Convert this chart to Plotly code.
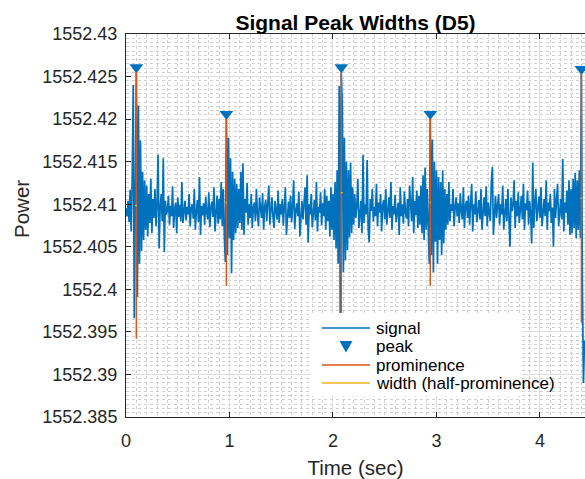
import numpy as np
import plotly.graph_objects as go

# ---------------- data ----------------
sample_interval = 0.01  # seconds between samples

signal_power = [
    1552.4095, 1552.4086, 1552.4104, 1552.4079, 1552.4117, 1552.4068, 1552.4132, 1552.4240, 1552.3966, 1552.4150,
    1552.4255, 1552.3991, 1552.4216, 1552.4030, 1552.4175, 1552.4045, 1552.4138, 1552.4058, 1552.4128, 1552.4070,
    1552.4122, 1552.4062, 1552.4112, 1552.4078, 1552.4130, 1552.4066, 1552.4106, 1552.4084, 1552.4118, 1552.4074,
    1552.4100, 1552.4158, 1552.4048, 1552.4096, 1552.4112, 1552.4080, 1552.4154, 1552.4044, 1552.4104, 1552.4088,
    1552.4092, 1552.4110, 1552.4076, 1552.4098, 1552.4086, 1552.4121, 1552.4072, 1552.4094, 1552.4102, 1552.4066,
    1552.4108, 1552.4085, 1552.4099, 1552.4080, 1552.4126, 1552.4078, 1552.4090, 1552.4104, 1552.4081, 1552.4097,
    1552.4088, 1552.4112, 1552.4074, 1552.4095, 1552.4100, 1552.4083, 1552.4118, 1552.4070, 1552.4092, 1552.4105,
    1552.4079, 1552.4132, 1552.4064, 1552.4098, 1552.4087, 1552.4101, 1552.4076, 1552.4109, 1552.4090, 1552.4082,
    1552.4114, 1552.4073, 1552.4096, 1552.4103, 1552.4085, 1552.4120, 1552.4068, 1552.4099, 1552.4110, 1552.4077,
    1552.4106, 1552.4082, 1552.4126, 1552.4074, 1552.4118, 1552.4062, 1552.4032, 1552.4200, 1552.4040, 1552.4178,
    1552.4060, 1552.4154, 1552.4019, 1552.4138, 1552.4058, 1552.4130, 1552.4066, 1552.4124, 1552.4072, 1552.4118,
    1552.4078, 1552.4138, 1552.4070, 1552.4148, 1552.4064, 1552.4106, 1552.4090, 1552.4125, 1552.4076, 1552.4100,
    1552.4084, 1552.4112, 1552.4072, 1552.4096, 1552.4102, 1552.4080, 1552.4118, 1552.4088, 1552.4074, 1552.4108,
    1552.4092, 1552.4084, 1552.4113, 1552.4070, 1552.4097, 1552.4105, 1552.4080, 1552.4099, 1552.4122, 1552.4076,
    1552.4090, 1552.4108, 1552.4086, 1552.4072, 1552.4104, 1552.4095, 1552.4082, 1552.4116, 1552.4078, 1552.4100,
    1552.4088, 1552.4106, 1552.4075, 1552.4098, 1552.4120, 1552.4064, 1552.4094, 1552.4103, 1552.4084, 1552.4110,
    1552.4079, 1552.4097, 1552.4128, 1552.4071, 1552.4092, 1552.4101, 1552.4086, 1552.4115, 1552.4062, 1552.4095,
    1552.4104, 1552.4082, 1552.4099, 1552.4120, 1552.4076, 1552.4134, 1552.4055, 1552.4100, 1552.4088, 1552.4112,
    1552.4073, 1552.4096, 1552.4105, 1552.4081, 1552.4126, 1552.4068, 1552.4097, 1552.4090, 1552.4114, 1552.4075,
    1552.4101, 1552.4086, 1552.4118, 1552.4070, 1552.4110, 1552.4080, 1552.4104, 1552.4062, 1552.4120, 1552.4070,
    1552.4112, 1552.4058, 1552.4126, 1552.4048, 1552.4140, 1552.4030, 1552.4239, 1552.3972, 1552.4255, 1552.4216,
    1552.4020, 1552.4178, 1552.4034, 1552.4150, 1552.4046, 1552.4140, 1552.4061, 1552.4149, 1552.4066, 1552.4120,
    1552.4076, 1552.4112, 1552.4084, 1552.4098, 1552.4130, 1552.4072, 1552.4095, 1552.4104, 1552.4066, 1552.4158,
    1552.4078, 1552.4100, 1552.4088, 1552.4152, 1552.4070, 1552.4055, 1552.4106, 1552.4092, 1552.4118, 1552.4080,
    1552.4097, 1552.4086, 1552.4124, 1552.4074, 1552.4102, 1552.4090, 1552.4112, 1552.4068, 1552.4099, 1552.4105,
    1552.4082, 1552.4118, 1552.4076, 1552.4094, 1552.4108, 1552.4084, 1552.4126, 1552.4070, 1552.4098, 1552.4088,
    1552.4111, 1552.4079, 1552.4095, 1552.4102, 1552.4064, 1552.4120, 1552.4086, 1552.4100, 1552.4077, 1552.4115,
    1552.4090, 1552.4083, 1552.4106, 1552.4074, 1552.4122, 1552.4092, 1552.4080, 1552.4132, 1552.4066, 1552.4104,
    1552.4087, 1552.4116, 1552.4072, 1552.4110, 1552.4076, 1552.4122, 1552.4066, 1552.4134, 1552.4058, 1552.4143,
    1552.4070, 1552.4118, 1552.4062, 1552.4030, 1552.4200, 1552.4040, 1552.4176, 1552.4020, 1552.4150, 1552.4056,
    1552.4140, 1552.4030, 1552.4132, 1552.4058, 1552.4126, 1552.4040, 1552.4140, 1552.4054, 1552.4118, 1552.4070,
    1552.4112, 1552.4076, 1552.4126, 1552.4080, 1552.4100, 1552.4092, 1552.4118, 1552.4074, 1552.4096, 1552.4108,
    1552.4086, 1552.4101, 1552.4078, 1552.4113, 1552.4092, 1552.4082, 1552.4120, 1552.4072, 1552.4098, 1552.4104,
    1552.4084, 1552.4110, 1552.4076, 1552.4094, 1552.4124, 1552.4068, 1552.4100, 1552.4088, 1552.4115, 1552.4079,
    1552.4096, 1552.4105, 1552.4082, 1552.4118, 1552.4070, 1552.4099, 1552.4108, 1552.4086, 1552.4121, 1552.4074,
    1552.4102, 1552.4090, 1552.4080, 1552.4126, 1552.4144, 1552.4064, 1552.4098, 1552.4110, 1552.4084, 1552.4096,
    1552.4112, 1552.4076, 1552.4100, 1552.4088, 1552.4122, 1552.4070, 1552.4095, 1552.4106, 1552.4080, 1552.4118,
    1552.4084, 1552.4050, 1552.4108, 1552.4092, 1552.4099, 1552.4128, 1552.4072, 1552.4104, 1552.4086, 1552.4114,
    1552.4078, 1552.4097, 1552.4110, 1552.4082, 1552.4124, 1552.4070, 1552.4101, 1552.4093, 1552.4116, 1552.4076,
    1552.4104, 1552.4088, 1552.4054, 1552.4149, 1552.4072, 1552.4100, 1552.4118, 1552.4080, 1552.4096, 1552.4109,
    1552.4084, 1552.4120, 1552.4074, 1552.4098, 1552.4106, 1552.4086, 1552.4128, 1552.4070, 1552.4102, 1552.4092,
    1552.4112, 1552.4078, 1552.4096, 1552.4050, 1552.4118, 1552.4084, 1552.4100, 1552.4124, 1552.4074, 1552.4098,
    1552.4106, 1552.4082, 1552.4153, 1552.4068, 1552.4102, 1552.4090, 1552.4116, 1552.4076, 1552.4128, 1552.4064,
    1552.4118, 1552.4066, 1552.4130, 1552.4072, 1552.4137, 1552.4060, 1552.4128, 1552.4070, 1552.4140, 1552.4060,
    1552.4253, 1552.4002, 1552.3890, 1552.3940,
]

peak_times = [0.10, 0.97, 2.08, 2.94, 4.40]
peak_values = [1552.4255, 1552.4200, 1552.4255, 1552.4200, 1552.4253]
prominence_bases = [1552.3942, 1552.4004, 1552.3972, 1552.4004, 1552.3961]
half_prominence_levels = [1552.40985, 1552.4102, 1552.41135, 1552.4102, 1552.4107]
width_left_times = [0.0872, 0.9642, 2.0750, 2.9342, 4.3924]
width_right_times = [0.1059, 0.9761, 2.0952, 2.9461, 4.4058]

x_tick_values = [0, 1, 2, 3, 4]
y_tick_values = [1552.385, 1552.39, 1552.395, 1552.4, 1552.405, 1552.41,
                 1552.415, 1552.42, 1552.425, 1552.43]
y_tick_labels = ["1552.385", "1552.39", "1552.395", "1552.4", "1552.405",
                 "1552.41", "1552.415", "1552.42", "1552.425", "1552.43"]

legend_labels = ["signal", "peak", "prominence", "width (half-prominence)"]

# ---------------- styling ----------------
BLUE = "#0072BD"
ORANGE = "#D95319"
YELLOW = "#EDB120"
AX = "#262626"
FONT = "Liberation Sans, Arial, Helvetica, sans-serif"
marker_lift = 0.0006  # triangle drawn just above each peak (as in findpeaks)

W, H = 585, 479
ML, MR, MT, MB = 126, 0, 34, 62
PW, PH = W - ML - MR, H - MT - MB


def px(x):  # pixel -> paper x
    return (x - ML) / PW


def py(y):  # pixel -> paper y
    return (H - MB - y) / PH


time = np.arange(len(signal_power)) * sample_interval

# segments for prominence / width lines
prom_x, prom_y = [], []
for t, top, base in zip(peak_times, peak_values, prominence_bases):
    prom_x += [t, t, None]
    prom_y += [base, top, None]
wid_x, wid_y = [], []
for l, r, h in zip(width_left_times, width_right_times, half_prominence_levels):
    wid_x += [l, r, None]
    wid_y += [h, h, None]

fig = go.Figure()
fig.add_trace(go.Scatter(x=time, y=signal_power, mode="lines", name=legend_labels[0],
                         line=dict(color=BLUE, width=1.7)))
fig.add_trace(go.Scatter(x=peak_times, y=[v + marker_lift for v in peak_values],
                         mode="markers", name=legend_labels[1],
                         marker=dict(symbol="triangle-down", size=12, color=BLUE,
                                     line=dict(width=0))))
fig.add_trace(go.Scatter(x=prom_x, y=prom_y, mode="lines", name=legend_labels[2],
                         line=dict(color=ORANGE, width=1.5)))
fig.add_trace(go.Scatter(x=wid_x, y=wid_y, mode="lines", name=legend_labels[3],
                         line=dict(color=YELLOW, width=1.5)))

# ---- legend box (MATLAB style, compact rows) ----
leg_left, leg_right, leg_top, leg_bottom = 311, 522, 313, 396
row_y = [328, 346.5, 365, 383]
sample_x0, sample_x1, text_x = 322, 370, 374
shapes = [dict(type="rect", xref="paper", yref="paper", x0=px(leg_left), x1=px(leg_right),
               y0=py(leg_bottom), y1=py(leg_top), fillcolor="white", line=dict(width=0),
               layer="above")]
row_colors = [BLUE, None, ORANGE, YELLOW]
for yy, col in zip(row_y, row_colors):
    if col is None:
        cx = (sample_x0 + sample_x1) / 2
        path = (f"M {px(cx - 6.5)},{py(yy - 5.5)} L {px(cx + 6.5)},{py(yy - 5.5)} "
                f"L {px(cx)},{py(yy + 6)} Z")
        shapes.append(dict(type="path", xref="paper", yref="paper", path=path,
                           fillcolor=BLUE, line=dict(width=0), layer="above"))
    else:
        shapes.append(dict(type="line", xref="paper", yref="paper", x0=px(sample_x0),
                           x1=px(sample_x1), y0=py(yy), y1=py(yy),
                           line=dict(color=col, width=1.5), layer="above"))
annotations = [dict(text=lab, xref="paper", yref="paper", x=px(text_x), y=py(yy),
                    xanchor="left", yanchor="middle", showarrow=False,
                    font=dict(size=17, color="black", family=FONT))
               for lab, yy in zip(legend_labels, row_y)]
# y-axis label (placed where MATLAB drew it)
annotations.append(dict(text="Power", xref="paper", yref="paper", x=px(22), y=py(209),
                        xanchor="center", yanchor="middle", textangle=-90, showarrow=False,
                        font=dict(size=20.5, color=AX, family=FONT)))

fig.update_layout(
    width=W, height=H,
    margin=dict(l=ML, r=MR, t=MT, b=MB),
    paper_bgcolor="white", plot_bgcolor="white",
    font=dict(family=FONT, color=AX, size=18),
    title=dict(text="<b>Signal Peak Widths (D5)</b>", x=0.5, xref="paper",
               y=1 - 23 / H, yref="container", yanchor="middle", xanchor="center",
               font=dict(size=21, color="black", family=FONT)),
    showlegend=False,
    shapes=shapes,
    annotations=annotations,
)

fig.update_xaxes(
    range=[0, 4.435], tickvals=x_tick_values, ticktext=[str(v) for v in x_tick_values],
    ticks="inside", ticklen=5, tickcolor=AX, showline=True, linecolor=AX, linewidth=1,
    mirror="ticks", showgrid=True, gridcolor="#dedede", gridwidth=1, zeroline=False,
    minor=dict(dtick=0.1, showgrid=True, gridcolor="#cfcfcf", griddash="dot", gridwidth=1),
    title=dict(text="Time (sec)", font=dict(size=20.5, color=AX), standoff=13),
    tickfont=dict(size=18, color=AX), ticklabelstandoff=7,
)
fig.update_yaxes(
    range=[1552.385, 1552.43], tickvals=y_tick_values, ticktext=y_tick_labels,
    ticks="inside", ticklen=5, tickcolor=AX, showline=True, linecolor=AX, linewidth=1,
    showgrid=True, gridcolor="#dedede", gridwidth=1, zeroline=False,
    minor=dict(dtick=0.0005, showgrid=True, gridcolor="#cfcfcf", griddash="dot", gridwidth=1),
    tickfont=dict(size=18, color=AX), ticklabelstandoff=4,
)

fig.write_html("out.html")
